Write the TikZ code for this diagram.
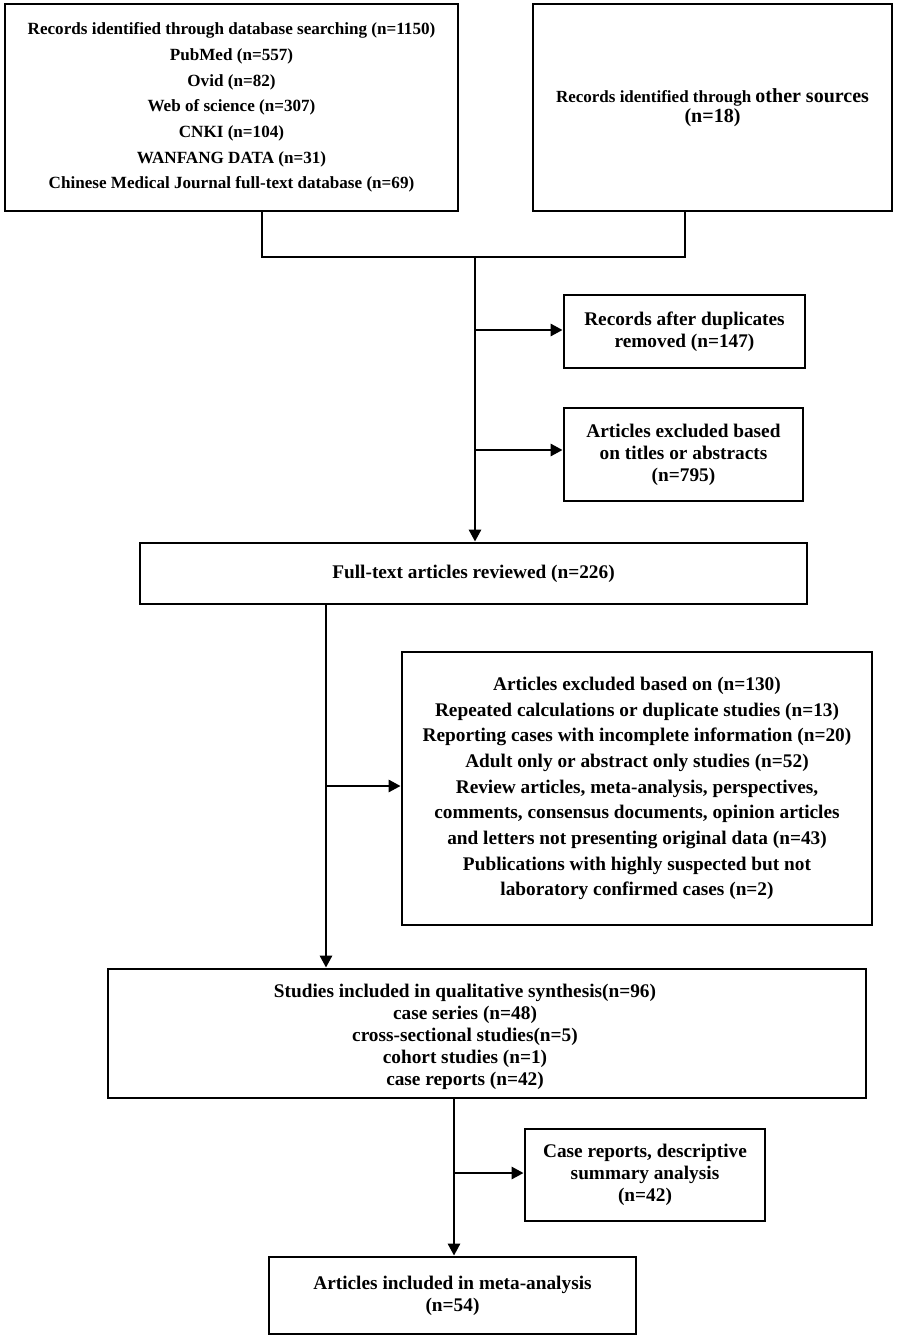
\documentclass[tikz,border=0pt]{standalone}
\usepackage{fontspec}
\setmainfont{Liberation Serif}
\usetikzlibrary{arrows.meta}
\begin{document}
\begin{tikzpicture}[x=1pt,y=-1pt,
  box/.style={draw=black,line width=2.8pt,rectangle,inner sep=0pt,align=center,font=\bfseries\fontsize{19.3}{22}\selectfont},
  conn/.style={draw=black,line width=2.8pt},
  arr/.style={conn,-{Triangle[length=12pt,width=12pt]}}]
\useasboundingbox (0,0) rectangle (897,1339);
\fill[white] (0,0) rectangle (897,1339);
% boxes
\node[box,minimum width=453pt,minimum height=207pt,font=\bfseries\fontsize{17.1}{25.7}\selectfont] (box1) at (231.5,107.5)
 {Records identified through database searching (n=1150)\\PubMed (n=557)\\Ovid (n=82)\\Web of science (n=307)\\CNKI (n=104)\\WANFANG DATA (n=31)\\Chinese Medical Journal full-text database (n=69)};
\node[box,minimum width=359pt,minimum height=207pt,font=\bfseries\fontsize{17}{20}\selectfont] (box2) at (712.5,107.5)
 {Records identified through {\fontsize{20}{20}\selectfont other sources}\\{\fontsize{20}{20}\selectfont (n=18)}};
\node[box,minimum width=241pt,minimum height=73pt] (box3) at (684.5,331.5)
 {Records after duplicates\\removed (n=147)};
\node[box,minimum width=239pt,minimum height=93pt] (box4) at (683.5,454.5)
 {Articles excluded based\\on titles or abstracts\\(n=795)};
\node[box,minimum width=667pt,minimum height=61pt] (box5) at (473.5,573.5)
 {Full-text articles reviewed (n=226)};
\node[box,minimum width=470pt,minimum height=273pt,font=\bfseries\fontsize{19.3}{25.7}\selectfont] (box6) at (637,788.5)
 {Articles excluded based on (n=130)\\Repeated calculations or duplicate studies (n=13)\\Reporting cases with incomplete information (n=20)\\Adult only or abstract only studies (n=52)\\Review articles, meta-analysis, perspectives,\\comments, consensus documents, opinion articles\\and letters not presenting original data (n=43)\\Publications with highly suspected but not\\laboratory confirmed cases (n=2)};
\node[box,minimum width=758pt,minimum height=129pt] (box7) at (487,1033.5) {};
\node[align=center,inner sep=0pt,font=\bfseries\fontsize{19.3}{22}\selectfont] (t7) at (465,1036.5)
 {Studies included in qualitative synthesis(n=96)\\case series (n=48)\\cross-sectional studies(n=5)\\cohort studies (n=1)\\case reports (n=42)};
\node[box,minimum width=240pt,minimum height=92pt] (box8) at (645,1175)
 {Case reports, descriptive\\summary analysis\\(n=42)};
\node[box,minimum width=367pt,minimum height=77pt] (box9) at (452.5,1295.5)
 {Articles included in meta-analysis\\(n=54)};
% connectors
\coordinate (j1) at (262,257);
\coordinate (j2) at (685,257);
\coordinate (tr) at (475,257);
\draw[conn] (box1.south -| j1) -- (j1) -- (j2) -- (box2.south -| j2);
\draw[arr] (tr) -- (tr |- box5.north);
\coordinate (b3) at (475,330);
\draw[arr] (b3) -- (b3 -| box3.west);
\coordinate (b4) at (475,450);
\draw[arr] (b4) -- (b4 -| box4.west);
\coordinate (s5) at (326,604);
\draw[arr] (box5.south -| s5) -- (s5 |- box7.north);
\coordinate (b6) at (326,786);
\draw[arr] (b6) -- (b6 -| box6.west);
\coordinate (s7) at (454,1098);
\draw[arr] (box7.south -| s7) -- (s7 |- box9.north);
\coordinate (b8) at (454,1173);
\draw[arr] (b8) -- (b8 -| box8.west);
\end{tikzpicture}
\end{document}
